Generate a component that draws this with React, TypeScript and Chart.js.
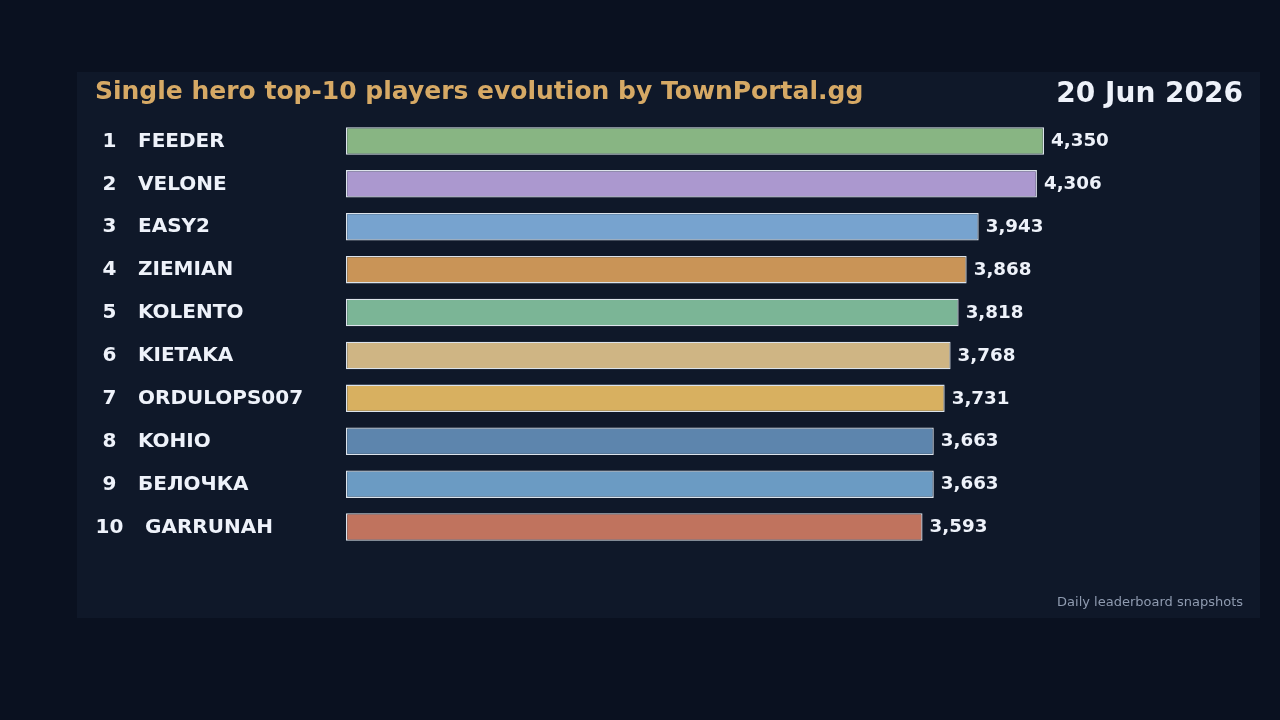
import React, { useEffect, useRef } from "react";
import { Chart, registerables } from "chart.js";

Chart.register(...registerables);

const ranks = [1, 2, 3, 4, 5, 6, 7, 8, 9, 10];
const players = ["FEEDER", "VELONE", "EASY2", "ZIEMIAN", "KOLENTO", "KIETAKA", "ORDULOPS007", "KOHIO", "БЕЛОЧКА", "GARRUNAH"];
const ratings = [4350, 4306, 3943, 3868, 3818, 3768, 3731, 3663, 3663, 3593];
const barColors = ["#88b583", "#ab98cf", "#77a3cf", "#c99457", "#7bb596", "#cfb584", "#d8b060", "#5d85ad", "#6b9bc3", "#c0735e"];
const titleText = "Single hero top-10 players evolution by TownPortal.gg";
const dateText = "20 Jun 2026";
const footerText = "Daily leaderboard snapshots";
const axisMax = 5000;

const FONT = "'DejaVu Sans', sans-serif";

const decorPlugin = {
  id: "decor",
  beforeDraw(chart: any) {
    const ctx = chart.ctx;
    ctx.save();
    ctx.fillStyle = "#0a1120";
    ctx.fillRect(0, 0, chart.width, chart.height);
    ctx.fillStyle = "#0f1829";
    ctx.fillRect(77, 72, 1183, 546);
    ctx.restore();
  },
  afterDraw(chart: any) {
    const ctx = chart.ctx;
    const yScale = chart.scales.y;
    const meta = chart.getDatasetMeta(0);
    ctx.save();
    // title
    ctx.textBaseline = "alphabetic";
    ctx.textAlign = "left";
    ctx.fillStyle = "#d6a965";
    ctx.font = `bold 25px ${FONT}`;
    ctx.fillText(titleText, 95, 99);
    // date
    ctx.textAlign = "right";
    ctx.fillStyle = "#eef2fa";
    ctx.font = `bold 28px ${FONT}`;
    ctx.fillText(dateText, 1243, 102);
    // footer
    ctx.fillStyle = "#8f9bb0";
    ctx.font = `13px ${FONT}`;
    ctx.fillText(footerText, 1243, 606);
    // row labels
    ctx.textBaseline = "middle";
    ctx.font = `bold 20px ${FONT}`;
    ctx.fillStyle = "#eef2fa";
    players.forEach((name, i) => {
      const y = yScale.getPixelForValue(i);
      ctx.textAlign = "center";
      ctx.fillText(String(ranks[i]), 109.5, y + 0.5);
      ctx.textAlign = "left";
      ctx.fillText(name, ranks[i] >= 10 ? 145 : 138, y + 0.5);
    });
    // value labels
    ctx.font = `bold 18.3px ${FONT}`;
    ctx.textAlign = "left";
    meta.data.forEach((bar: any, i: number) => {
      ctx.fillText(ratings[i].toLocaleString("en-US"), bar.x + 7, bar.y + 0.5);
    });
    ctx.restore();
  },
};

export default function App() {
  const ref = useRef<HTMLCanvasElement>(null);
  useEffect(() => {
    if (!ref.current) return;
    const chart = new Chart(ref.current, {
      type: "bar",
      data: {
        labels: players,
        datasets: [
          {
            data: ratings,
            backgroundColor: barColors,
            borderColor: "rgba(232,238,246,0.95)",
            borderWidth: 1.3,
            borderSkipped: false,
            categoryPercentage: 0.64,
            barPercentage: 1,
          },
        ],
      },
      options: {
        indexAxis: "y",
        responsive: false,
        animation: false,
        layout: { padding: { left: 346, right: 131.7, top: 119.5, bottom: 171.5 } },
        plugins: { legend: { display: false }, tooltip: { enabled: false } },
        scales: {
          x: { display: false, min: 0, max: axisMax, grid: { display: false } },
          y: { display: false, grid: { display: false } },
        },
      },
      plugins: [decorPlugin],
    });
    return () => chart.destroy();
  }, []);
  return (
    <div style={{ position: "absolute", left: 0, top: 0, width: 1280, height: 720 }}>
      <canvas ref={ref} width={1280} height={720} />
    </div>
  );
}
